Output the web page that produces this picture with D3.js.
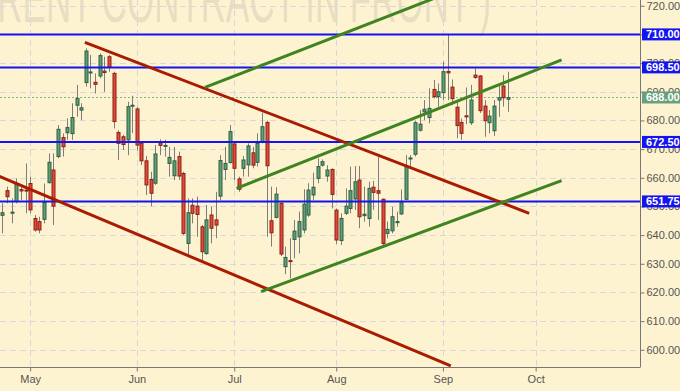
<!DOCTYPE html>
<html lang="en">
<head>
<meta charset="utf-8">
<script src="https://cdn.jsdelivr.net/npm/d3@7/dist/d3.min.js"></script>
<style>
  body { margin: 0; background: #fef3d0; }
  svg { display: block; }
</style>
<title>Brent contract in front</title>
</head>
<body>
<script>
// daily candles, first one is 2018-04-23, weekdays only
var opens  = [646.9,655.5,647.7,651.7,655.9,655.7,658.0,645.8,644.7,645.5,658.3,662.7,667.4,674.0,675.7,675.4,685.3,683.6,693.2,696.7,
              693.3,695.5,697.2,702.2,696.4,675.8,674.3,673.2,685.0,684.0,672.0,665.9,659.4,658.1,672.2,671.0,665.0,660.7,667.4,661.5,
              637.1,650.4,650.1,642.9,633.6,647.0,645.3,653.6,662.9,665.3,671.8,659.6,663.3,664.5,668.7,665.4,672.6,679.3,645.0,646.2,
              651.1,629.0,631.1,638.5,639.4,641.8,647.0,654.0,659.8,664.4,660.6,662.9,648.7,638.1,647.6,649.3,652.6,659.2,646.8,645.8,
              656.7,655.5,652.5,640.6,641.5,644.6,647.4,652.5,666.7,668.2,676.6,683.0,681.0,690.8,688.3,689.7,697.1,691.6,684.6,679.3,
              681.6,679.2,695.8,695.5,685.0,679.2,676.4,687.1,692.0,687.4];
var highs  = [651.1,656.9,652.8,659.8,657.5,665.0,660.4,647.0,646.4,658.0,668.5,668.5,678.4,675.5,680.7,686.0,692.4,686.0,705.1,702.8,
              696.4,703.4,702.2,702.8,697.0,676.6,674.9,686.5,688.6,684.8,672.6,667.6,662.1,671.4,673.4,673.2,670.8,670.8,669.1,662.1,
              652.8,652.8,653.4,643.5,650.5,649.9,655.1,667.9,670.8,678.4,672.6,660.4,667.6,672.0,670.8,675.5,682.7,679.9,656.9,656.7,
              651.7,636.0,638.9,645.3,648.2,656.0,658.1,661.8,666.8,666.4,664.4,663.3,649.3,647.6,656.3,663.9,664.1,664.1,656.9,658.6,
              658.9,667.4,652.8,644.7,649.9,648.2,655.9,667.9,667.9,679.9,683.6,687.1,691.2,694.1,692.9,700.5,709.8,694.3,686.5,680.7,
              691.5,692.4,698.2,695.8,687.1,683.6,687.1,692.9,695.8,697.0];
var lows   = [640.6,651.1,644.1,651.1,652.2,647.6,647.6,641.2,640.6,644.1,658.0,643.5,666.8,667.4,673.2,673.2,681.3,680.1,691.8,691.2,
              689.4,694.7,690.0,697.0,677.2,666.2,669.7,667.9,675.6,669.5,664.4,654.0,650.1,657.5,667.9,667.4,660.4,659.2,659.2,640.0,
              633.1,644.1,639.4,631.3,633.1,637.1,638.9,652.2,659.2,665.0,659.2,655.1,660.4,660.4,663.3,663.9,672.0,639.4,636.0,645.8,
              632.7,626.4,624.9,631.9,633.6,640.6,646.4,652.2,658.1,663.9,658.6,649.3,636.9,636.5,647.0,647.6,648.8,642.4,644.7,643.0,
              648.8,645.3,636.5,638.9,640.6,642.9,647.0,652.2,663.9,667.4,676.1,680.1,679.0,687.7,684.8,687.1,687.1,685.4,673.8,673.2,
              678.7,678.4,694.5,682.6,674.3,675.5,674.6,681.3,684.8,683.0];
var closes = [647.8,653.4,648.0,657.8,655.4,655.4,648.8,641.8,641.8,651.4,665.4,650.1,676.9,670.8,677.5,681.0,687.7,684.4,704.2,696.9,
              692.6,702.6,696.7,698.5,679.6,672.0,671.6,684.8,685.3,671.4,665.9,657.5,654.6,668.3,671.3,671.3,667.1,665.9,660.6,640.6,
              647.8,647.6,647.2,634.2,645.3,642.4,643.5,666.0,665.0,676.1,663.3,656.0,666.2,671.1,664.4,672.0,677.8,664.2,640.8,654.3,
              633.4,632.2,630.8,641.4,644.7,650.8,655.7,656.7,663.9,665.6,662.7,654.2,638.3,645.8,650.1,655.5,658.6,646.4,647.3,656.3,
              654.9,654.6,637.1,642.0,646.4,644.7,651.3,663.9,666.9,679.2,678.7,683.9,684.2,688.3,690.0,697.0,696.6,687.6,678.2,675.5,
              681.4,687.1,695.0,683.4,679.9,681.5,685.0,687.9,687.9,688.0];

// horizontal levels and trend lines, in [trading-day index, price]
var levels = [710, 698.5, 672.5, 651.75];
var lastPrice = 688;
var redLines = [
  [[17.8, 707.2], [113.6, 647.6]],
  [[-1, 660.7], [96.7, 594.4]]
];
var greenLines = [
  [[43.7, 691.5], [94.4, 723.4]],
  [[50.5, 656.3], [120.6, 701.1]],
  [[55.8, 620.3], [120.6, 659.0]]
];
var priceTicks = d3.range(600, 721, 10);
var watermark = "BRENT CONTRACT IN FRONT )";

var w = 680, h = 391;
var plotW = 640, plotH = 367;

// weekday calendar for the x axis
var days = d3.utcDay.range(new Date(Date.UTC(2018, 3, 23)), new Date(Date.UTC(2018, 10, 1)))
  .filter(function(d){ return d.getUTCDay() !== 0 && d.getUTCDay() !== 6; });
var monthStarts = [];
days.forEach(function(d, i){
  if (i > 0 && d.getUTCMonth() !== days[i-1].getUTCMonth()) monthStarts.push(i);
});

var x = d3.scaleLinear().domain([-0.5, days.length - 0.5]).range([0, plotW]);
var y = d3.scaleLinear().domain([594, 722]).range([plotH, 0]);

var svg = d3.select("body").append("svg")
  .attr("width", w)
  .attr("height", h);

svg.append("rect").attr("width", w).attr("height", h).attr("fill", "#fef3d0");

svg.append("defs").append("clipPath").attr("id", "plot")
  .append("rect").attr("width", plotW).attr("height", plotH);

var plot = svg.append("g").attr("clip-path", "url(#plot)");

// watermark
plot.append("text")
  .attr("transform", "translate(-26,22) scale(1,1.9)")
  .attr("font-family", "Liberation Sans, Arial, sans-serif")
  .attr("font-size", 35)
  .attr("fill", "#e8dec2")
  .text(watermark);

// grid
plot.selectAll("line.hgrid")
  .data(priceTicks)
  .enter().append("line")
  .attr("class", "hgrid")
  .attr("x1", 0).attr("x2", plotW)
  .attr("y1", function(d){ return Math.round(y(d)) + 0.5; })
  .attr("y2", function(d){ return Math.round(y(d)) + 0.5; })
  .attr("stroke", "#d6d8dc")
  .attr("stroke-dasharray", "6,4");

plot.selectAll("line.vgrid")
  .data(monthStarts)
  .enter().append("line")
  .attr("class", "vgrid")
  .attr("x1", function(d){ return Math.round(x(d)) + 0.5; })
  .attr("x2", function(d){ return Math.round(x(d)) + 0.5; })
  .attr("y1", 0).attr("y2", plotH)
  .attr("stroke", "#d6d8dc")
  .attr("stroke-dasharray", "6,4");

// last price dotted line
plot.append("line")
  .attr("x1", 0).attr("x2", plotW)
  .attr("y1", Math.round(y(lastPrice)) + 0.5)
  .attr("y2", Math.round(y(lastPrice)) + 0.5)
  .attr("stroke", "#7fb48c")
  .attr("stroke-dasharray", "2,2");

// candles
var candles = opens.map(function(o, i){
  return { i: i, o: o, h: highs[i], l: lows[i], c: closes[i] };
});

var cg = plot.selectAll("g.candle")
  .data(candles)
  .enter().append("g")
  .attr("class", "candle");

cg.append("line")
  .attr("x1", function(d){ return Math.round(x(d.i)) + 0.5; })
  .attr("x2", function(d){ return Math.round(x(d.i)) + 0.5; })
  .attr("y1", function(d){ return y(d.h); })
  .attr("y2", function(d){ return y(d.l); })
  .attr("stroke", "#7d7d7d");

cg.append("rect")
  .attr("x", function(d){ return Math.round(x(d.i)) - 1; })
  .attr("y", function(d){ return y(Math.max(d.o, d.c)); })
  .attr("width", 3)
  .attr("height", function(d){ return Math.max(1, Math.abs(y(d.o) - y(d.c))); })
  .attr("fill", function(d){ return d.c >= d.o ? "#5f9f7a" : "#e04a3a"; })
  .attr("stroke", function(d){ return d.c >= d.o ? "#2f5e43" : "#8c2014"; })
  .attr("stroke-width", 1);

// levels
plot.selectAll("line.level")
  .data(levels)
  .enter().append("line")
  .attr("class", "level")
  .attr("x1", 0).attr("x2", plotW)
  .attr("y1", function(d){ return y(d); })
  .attr("y2", function(d){ return y(d); })
  .attr("stroke", "#1414f0")
  .attr("stroke-width", 2);

// trend lines
var line = d3.line()
  .x(function(d){ return x(d[0]); })
  .y(function(d){ return y(d[1]); });

plot.selectAll("path.red")
  .data(redLines)
  .enter().append("path")
  .attr("class", "red")
  .attr("d", line)
  .attr("fill", "none")
  .attr("stroke", "#a81c02")
  .attr("stroke-width", 3);

plot.selectAll("path.green")
  .data(greenLines)
  .enter().append("path")
  .attr("class", "green")
  .attr("d", line)
  .attr("fill", "none")
  .attr("stroke", "#3e8420")
  .attr("stroke-width", 3);

// right price axis
var yAxis = d3.axisRight(y)
  .tickValues(priceTicks)
  .tickFormat(d3.format(".2f"))
  .tickSize(4)
  .tickPadding(2);

var ya = svg.append("g")
  .attr("transform", "translate(" + (plotW + 0.5) + ",0)")
  .call(yAxis);
ya.select(".domain").attr("stroke", "#777").attr("d", "M0,0V" + plotH);
ya.selectAll(".tick line").attr("stroke", "#777");
ya.selectAll(".tick text")
  .attr("fill", "#555")
  .attr("font-family", "Liberation Sans, Arial, sans-serif")
  .attr("font-size", 11);

// price labels
var tags = levels.map(function(v){ return { v: v, fill: "#1414f0" }; });
tags.push({ v: lastPrice, fill: "#6a9f7e" });

var tg = svg.selectAll("g.tag")
  .data(tags)
  .enter().append("g")
  .attr("class", "tag")
  .attr("transform", function(d){ return "translate(" + (plotW + 1) + "," + y(d.v) + ")"; });

tg.append("rect")
  .attr("x", 1).attr("y", -6)
  .attr("width", 42).attr("height", 12)
  .attr("fill", function(d){ return d.fill; });

tg.append("text")
  .attr("x", 5)
  .attr("dy", "0.36em")
  .attr("fill", "#fff")
  .attr("font-family", "Liberation Sans, Arial, sans-serif")
  .attr("font-size", 11)
  .attr("font-weight", "bold")
  .text(function(d){ return d3.format(".2f")(d.v); });

// bottom month axis
var xAxis = d3.axisBottom(x)
  .tickValues(monthStarts)
  .tickFormat(function(i){ return d3.utcFormat("%b")(days[i]); })
  .tickSize(4)
  .tickPadding(4);

var xa = svg.append("g")
  .attr("transform", "translate(0," + (plotH + 0.5) + ")")
  .call(xAxis);
xa.select(".domain").attr("stroke", "#777").attr("d", "M0,0H" + (plotW + 0.5));
xa.selectAll(".tick line").attr("stroke", "#777");
xa.selectAll(".tick text")
  .attr("fill", "#555")
  .attr("font-family", "Liberation Sans, Arial, sans-serif")
  .attr("font-size", 11);
</script>
</body>
</html>
